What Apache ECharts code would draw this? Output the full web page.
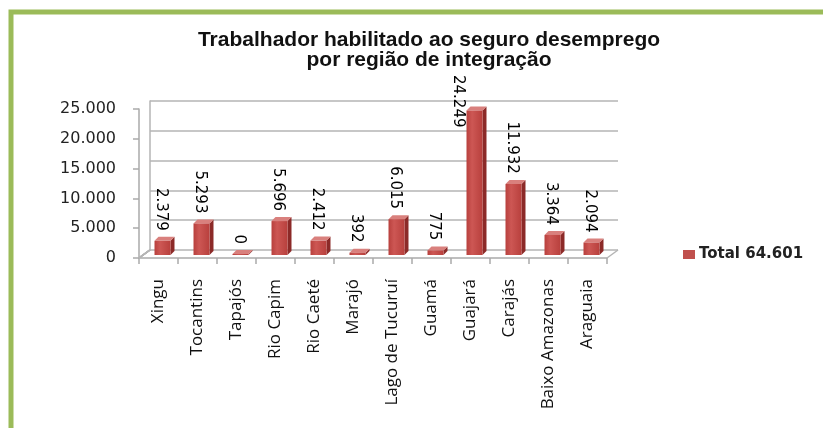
<!DOCTYPE html>
<html>
<head>
<meta charset="utf-8">
<script src="https://cdn.jsdelivr.net/npm/echarts@6/dist/echarts.min.js"></script>
<style>
	html, body {margin: 0; padding: 0; background: #fff;}
	#chart {width: 823px; height: 428px;}
</style>
</head>
<body>
<div id="chart"></div>
<script>
// 数据
var regioes = ['Xingu', 'Tocantins', 'Tapajós', 'Rio Capim', 'Rio Caeté', 'Marajó', 'Lago de Tucuruí', 'Guamá', 'Guajará', 'Carajás', 'Baixo Amazonas', 'Araguaia'];
var trabalhadores = [2379, 5293, 0, 5696, 2412, 392, 6015, 775, 24249, 11932, 3364, 2094];
var yTicks = [0, 5000, 10000, 15000, 20000, 25000];
var serieNome = 'Total 64.601';

// 千位分隔 (pt-BR 用点)
function fmt(v) {
	return String(v).replace(/\B(?=(\d{3})+(?!\d))/g, '.');
}

// 量文字长度
var ctx = document.createElement('canvas').getContext('2d');
var labelFont = '15px "DejaVu Sans"';
function textLen(s) {
	ctx.font = labelFont;
	return ctx.measureText(s).width;
}

var DX = 11, DY = 8; // 3D 深度偏移
var LABEL_TOP = 75;  // 标签最高位置

var myChart = echarts.init(document.getElementById('chart'));
var option = {
	backgroundColor: '#fff',
	animation: false,
	title: {
		text: 'Trabalhador habilitado ao seguro desemprego\npor região de integração',
		left: 424,
		textAlign: 'center',
		top: 25,
		textStyle: {
			fontFamily: 'Liberation Sans, Arial',
			fontWeight: 'bold',
			fontSize: 21,
			lineHeight: 20,
			color: '#111'
		}
	},
	graphic: [
		{type: 'rect', shape: {x: 11, y: 12, width: 900, height: 500}, style: {fill: 'none', stroke: '#9bbb59', lineWidth: 5}, z: 100}
	],
	legend: {
		data: [serieNome],
		left: 678,
		top: 242,
		itemWidth: 12,
		itemHeight: 9,
		itemGap: 6,
		icon: 'rect',
		textStyle: {fontFamily: 'DejaVu Sans', fontWeight: 'bold', fontSize: 15, color: '#222', padding: [0, 0, 0, -1]}
	},
	grid: [
		{left: 139, right: 216, top: 109, bottom: 170},	// 前面 (坐标轴)
		{left: 139 + DX, right: 216 - DX, top: 109 - DY, bottom: 170 + DY}	// 背墙 (网格线)
	],
	xAxis: [
		{
			type: 'category', gridIndex: 0, data: regioes,
			axisLine: {show: true, lineStyle: {color: '#aaa', width: 1.5}},
			axisTick: {show: true, length: 6, lineStyle: {color: '#aaa', width: 1.5}},
			axisLabel: {rotate: 90, interval: 0, fontFamily: 'Open Sans', fontSize: 17, color: '#111', margin: 21}
		},
		{
			type: 'category', gridIndex: 1, data: regioes,
			axisLine: {show: false},
			axisTick: {show: false}, axisLabel: {show: false}
		}
	],
	yAxis: [
		{
			type: 'value', gridIndex: 0, min: 0, max: 25000, interval: 5000,
			axisLine: {show: true, lineStyle: {color: '#aaa', width: 1.5}},
			axisTick: {show: true, length: 6, lineStyle: {color: '#aaa', width: 1.5}},
			splitLine: {show: false},
			axisLabel: {fontFamily: 'DejaVu Sans', fontSize: 16, color: '#222', margin: 23, formatter: fmt}
		},
		{
			type: 'value', gridIndex: 1, min: 0, max: 25000, interval: 5000,
			axisLine: {show: true, lineStyle: {color: '#b5b5b5', width: 1.5}},
			axisTick: {show: false}, axisLabel: {show: false},
			splitLine: {show: true, lineStyle: {color: '#b5b5b5', width: 1.5}}
		}
	],
	series: [
		// 左墙斜线
		{
			type: 'custom', xAxisIndex: 0, yAxisIndex: 0, silent: true, z: 1,
			data: yTicks,
			renderItem: function(params, api) {
				var p = api.coord([0, api.value(0)]);
				var half = api.size([1, 0])[0] / 2;
				var x0 = p[0] - half;
				return {
					type: 'line',
					shape: {x1: x0, y1: p[1], x2: x0 + DX, y2: p[1] - DY},
					style: {stroke: '#b5b5b5', lineWidth: 1.5}
				};
			}
		},
		// 地板右边
		{
			type: 'custom', xAxisIndex: 0, yAxisIndex: 0, silent: true, z: 1,
			data: [0],
			renderItem: function(params, api) {
				var p = api.coord([regioes.length - 1, 0]);
				var half = api.size([1, 0])[0] / 2;
				var x0 = p[0] + half;
				return {
					type: 'line',
					shape: {x1: x0, y1: p[1], x2: x0 + DX, y2: p[1] - DY},
					style: {stroke: '#b5b5b5', lineWidth: 1.5}
				};
			}
		},
		// 3D 柱
		{
			name: serieNome,
			type: 'custom', xAxisIndex: 0, yAxisIndex: 0, z: 5,
			itemStyle: {color: '#c0504d'},
			data: trabalhadores.map(function(v, i) { return [i, v]; }),
			renderItem: function(params, api) {
				var top = api.coord([api.value(0), api.value(1)]);
				var base = api.coord([api.value(0), 0]);
				var w = api.size([1, 0])[0] * 0.41;
				var d = 4, dy = 4;
				var cx = top[0] + 4;
				var x0 = cx - w / 2, x1 = x0 + w;
				var yb = base[1] - 3, yt = Math.min(top[1] - 3, yb - 1);
				var txt = fmt(api.value(1));
				var len = textLen(txt);
				var lx = cx - 2, ly = yt - dy - 6, al = 'right';
				if (ly - len < LABEL_TOP) {
					// 放不下: 移到柱子左边
					lx = x0 - 9; ly = LABEL_TOP; al = 'left';
				}
				return {
					type: 'group',
					children: [
						{
							type: 'polygon',
							shape: {points: [[x1, yt], [x1 + d, yt - dy], [x1 + d, yb - dy], [x1, yb]]},
							style: {fill: '#8c2a28'}
						},
						{
							type: 'polygon',
							shape: {points: [[x0, yt], [x0 + d, yt - dy], [x1 + d, yt - dy], [x1, yt]]},
							style: {fill: '#d9807d'}
						},
						{
							type: 'rect',
							shape: {x: x0, y: yt, width: w, height: yb - yt},
							style: {
								fill: new echarts.graphic.LinearGradient(0, 0, 1, 0, [
									{offset: 0, color: '#b8403d'},
									{offset: 0.35, color: '#cd5754'},
									{offset: 1, color: '#b8403d'}
								])
							}
						},
						{
							type: 'text',
							x: lx,
							y: ly,
							rotation: -Math.PI / 2,
							style: {
								text: txt,
								align: al,
								verticalAlign: 'middle',
								fontFamily: 'DejaVu Sans',
								fontSize: 15,
								fill: '#000'
							}
						}
					]
				};
			}
		}
	]
};
myChart.setOption(option);
</script>
</body>
</html>
